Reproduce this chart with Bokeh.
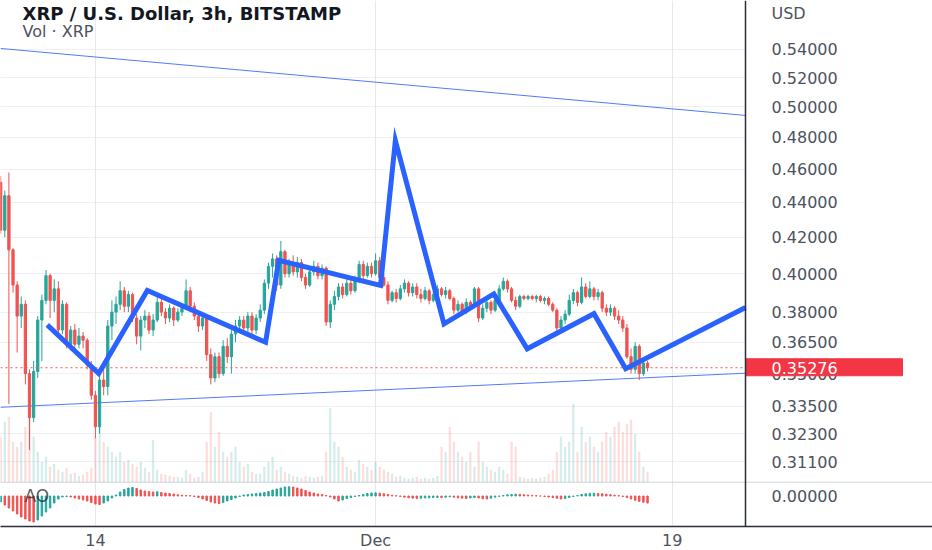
import math
from bokeh.plotting import figure
from bokeh.models import (Range1d, FixedTicker, Span, Label, Grid,
                          LinearScale, ColumnDataSource)
from bokeh.core.properties import value
from bokeh.embed import file_html
from bokeh.resources import INLINE

# ---------------- data (6h candles from Nov 8 06:00, bar index) ----------------
opens = [0.452, 0.424, 0.444, 0.413, 0.394, 0.378, 0.384, 0.350, 0.330, 0.351,
         0.376, 0.386, 0.399, 0.386, 0.392, 0.371, 0.384, 0.364, 0.371, 0.364,
         0.368, 0.366, 0.354, 0.340, 0.326, 0.347, 0.344, 0.373, 0.380, 0.384,
         0.391, 0.383, 0.389, 0.377, 0.368, 0.376, 0.378, 0.371, 0.376, 0.385,
         0.380, 0.377, 0.382, 0.376, 0.380, 0.382, 0.391, 0.383, 0.378, 0.373,
         0.377, 0.359, 0.348, 0.358, 0.350, 0.363, 0.358, 0.369, 0.373, 0.376,
         0.372, 0.378, 0.371, 0.377, 0.381, 0.395, 0.404, 0.408, 0.394, 0.412,
         0.400, 0.405, 0.401, 0.406, 0.398, 0.394, 0.401, 0.404, 0.399, 0.403,
         0.375, 0.384, 0.388, 0.393, 0.389, 0.395, 0.391, 0.397, 0.405, 0.399,
         0.404, 0.400, 0.407, 0.398, 0.394, 0.386, 0.390, 0.387, 0.392, 0.395,
         0.390, 0.393, 0.389, 0.387, 0.391, 0.386, 0.389, 0.392, 0.389, 0.391,
         0.387, 0.381, 0.384, 0.380, 0.385, 0.383, 0.392, 0.377, 0.382, 0.385,
         0.381, 0.386, 0.392, 0.396, 0.392, 0.386, 0.383, 0.388, 0.387, 0.388,
         0.387, 0.388, 0.386, 0.387, 0.384, 0.381, 0.372, 0.376, 0.379, 0.386,
         0.390, 0.385, 0.393, 0.388, 0.392, 0.388, 0.390, 0.382, 0.380, 0.382,
         0.378, 0.376, 0.372, 0.358, 0.352, 0.363, 0.350, 0.355]
highs = [0.456, 0.447, 0.458, 0.414, 0.396, 0.388, 0.386, 0.352, 0.356, 0.378,
         0.389, 0.402, 0.400, 0.397, 0.396, 0.386, 0.385, 0.373, 0.374, 0.372,
         0.370, 0.367, 0.356, 0.342, 0.349, 0.354, 0.376, 0.386, 0.388, 0.396,
         0.393, 0.391, 0.390, 0.379, 0.378, 0.381, 0.380, 0.379, 0.389, 0.387,
         0.382, 0.384, 0.383, 0.382, 0.384, 0.397, 0.393, 0.385, 0.380, 0.380,
         0.378, 0.362, 0.360, 0.360, 0.366, 0.367, 0.371, 0.376, 0.378, 0.378,
         0.380, 0.380, 0.379, 0.384, 0.397, 0.406, 0.411, 0.410, 0.418, 0.413,
         0.408, 0.410, 0.409, 0.408, 0.400, 0.403, 0.407, 0.406, 0.405, 0.404,
         0.386, 0.391, 0.395, 0.395, 0.397, 0.397, 0.399, 0.407, 0.407, 0.406,
         0.406, 0.411, 0.409, 0.400, 0.396, 0.391, 0.392, 0.394, 0.397, 0.396,
         0.395, 0.395, 0.392, 0.393, 0.392, 0.391, 0.394, 0.393, 0.393, 0.392,
         0.388, 0.386, 0.385, 0.387, 0.386, 0.393, 0.393, 0.384, 0.387, 0.386,
         0.388, 0.394, 0.398, 0.397, 0.393, 0.388, 0.389, 0.389, 0.389, 0.389,
         0.389, 0.389, 0.388, 0.388, 0.385, 0.382, 0.378, 0.381, 0.389, 0.392,
         0.391, 0.398, 0.395, 0.396, 0.393, 0.392, 0.391, 0.384, 0.384, 0.383,
         0.381, 0.378, 0.374, 0.362, 0.365, 0.364, 0.357, 0.356]
lows = [0.422, 0.420, 0.336, 0.390, 0.360, 0.372, 0.345, 0.316, 0.328, 0.348,
        0.356, 0.384, 0.377, 0.380, 0.368, 0.369, 0.362, 0.361, 0.360, 0.362,
        0.362, 0.352, 0.338, 0.321, 0.323, 0.340, 0.340, 0.366, 0.374, 0.381,
        0.380, 0.380, 0.375, 0.364, 0.361, 0.372, 0.369, 0.368, 0.375, 0.378,
        0.374, 0.375, 0.373, 0.375, 0.378, 0.381, 0.380, 0.376, 0.370, 0.371,
        0.356, 0.345, 0.346, 0.348, 0.349, 0.355, 0.350, 0.365, 0.371, 0.370,
        0.370, 0.369, 0.369, 0.375, 0.379, 0.392, 0.398, 0.391, 0.392, 0.398,
        0.398, 0.399, 0.398, 0.396, 0.392, 0.393, 0.399, 0.397, 0.397, 0.373,
        0.372, 0.381, 0.386, 0.387, 0.388, 0.389, 0.390, 0.395, 0.397, 0.398,
        0.398, 0.399, 0.396, 0.393, 0.384, 0.385, 0.385, 0.386, 0.390, 0.388,
        0.388, 0.387, 0.385, 0.386, 0.384, 0.385, 0.387, 0.388, 0.387, 0.386,
        0.379, 0.380, 0.378, 0.379, 0.381, 0.382, 0.375, 0.376, 0.380, 0.379,
        0.380, 0.385, 0.391, 0.390, 0.385, 0.381, 0.382, 0.386, 0.386, 0.386,
        0.385, 0.385, 0.384, 0.383, 0.380, 0.370, 0.371, 0.374, 0.378, 0.384,
        0.383, 0.384, 0.387, 0.387, 0.386, 0.386, 0.380, 0.378, 0.378, 0.376,
        0.374, 0.370, 0.357, 0.350, 0.350, 0.347, 0.349, 0.351]
closes = [0.424, 0.444, 0.413, 0.394, 0.378, 0.384, 0.350, 0.330, 0.351, 0.376,
          0.386, 0.399, 0.386, 0.392, 0.371, 0.384, 0.364, 0.371, 0.364, 0.368,
          0.366, 0.354, 0.340, 0.326, 0.347, 0.344, 0.373, 0.380, 0.384, 0.391,
          0.383, 0.389, 0.377, 0.368, 0.376, 0.378, 0.371, 0.376, 0.385, 0.380,
          0.377, 0.382, 0.376, 0.380, 0.382, 0.391, 0.383, 0.378, 0.373, 0.377,
          0.359, 0.348, 0.358, 0.350, 0.363, 0.358, 0.369, 0.373, 0.376, 0.372,
          0.378, 0.371, 0.377, 0.381, 0.395, 0.404, 0.408, 0.394, 0.412, 0.400,
          0.405, 0.401, 0.406, 0.398, 0.394, 0.401, 0.404, 0.399, 0.403, 0.375,
          0.384, 0.388, 0.393, 0.389, 0.395, 0.391, 0.397, 0.405, 0.399, 0.404,
          0.400, 0.407, 0.398, 0.394, 0.386, 0.390, 0.387, 0.392, 0.395, 0.390,
          0.393, 0.389, 0.387, 0.391, 0.386, 0.389, 0.392, 0.389, 0.391, 0.387,
          0.381, 0.384, 0.380, 0.385, 0.383, 0.392, 0.377, 0.382, 0.385, 0.381,
          0.386, 0.392, 0.396, 0.392, 0.386, 0.383, 0.388, 0.387, 0.388, 0.387,
          0.388, 0.386, 0.387, 0.384, 0.381, 0.372, 0.376, 0.379, 0.386, 0.390,
          0.385, 0.393, 0.388, 0.392, 0.388, 0.390, 0.382, 0.380, 0.382, 0.378,
          0.376, 0.372, 0.358, 0.352, 0.363, 0.350, 0.355, 0.35276]
volumes = [45, 60, 65, 40, 35, 40, 55, 70, 45, 30,
           20, 25, 15, 18, 12, 10, 14, 8, 9, 6,
           7, 10, 14, 45, 55, 40, 35, 30, 25, 30,
           20, 22, 18, 15, 20, 14, 10, 42, 12, 8,
           7, 6, 5, 5, 4, 12, 8, 4, 5, 10,
           40, 70, 35, 50, 30, 25, 30, 35, 20, 15,
           18, 10, 8, 8, 15, 20, 25, 12, 15, 10,
           8, 6, 5, 4, 6, 5, 4, 5, 6, 30,
           74, 40, 35, 25, 15, 12, 10, 22, 18, 15,
           12, 20, 15, 12, 10, 8, 5, 6, 4, 3,
           4, 5, 3, 4, 3, 4, 6, 35, 30, 55,
           40, 30, 25, 20, 30, 15, 40, 20, 15, 12,
           10, 15, 12, 8, 40, 35, 5, 4, 3, 4,
           3, 4, 5, 8, 12, 30, 45, 35, 40, 78,
           30, 55, 40, 45, 35, 30, 40, 50, 45, 55,
           60, 50, 58, 62, 48, 30, 15, 10]
ao = [-0.012, -0.018, -0.024, -0.030, -0.036, -0.042, -0.046, -0.050, -0.052, -0.048,
      -0.040, -0.032, -0.024, -0.014, -0.006, -0.002, -0.001, -0.002, -0.004, -0.006,
      -0.008, -0.010, -0.013, -0.016, -0.017, -0.014, -0.010, -0.004, 0.002, 0.008,
      0.013, 0.016, 0.017, 0.015, 0.012, 0.010, 0.009, 0.008, 0.0085, 0.007,
      0.006, 0.005, 0.004, 0.0024, 0.0016, 0.001, 0.0006, -0.001, -0.003, -0.006,
      -0.009, -0.012, -0.014, -0.015, -0.013, -0.010, -0.007, -0.004, -0.001, 0.002,
      0.003, 0.004, 0.005, 0.006, 0.007, 0.009, 0.012, 0.014, 0.016, 0.018,
      0.0184, 0.018, 0.016, 0.014, 0.011, 0.008, 0.006, 0.004, 0.003, 0.001,
      -0.002, -0.006, -0.010, -0.008, -0.005, -0.003, -0.001, 0.001, 0.003, 0.005,
      0.006, 0.0064, 0.0056, 0.0044, 0.003, 0.0016, 0.0004, -0.001, -0.0024, -0.0036,
      -0.0044, -0.005, -0.0044, -0.004, -0.0036, -0.003, -0.0028, -0.0032, -0.0024, -0.0016,
      -0.0024, -0.0036, -0.0044, -0.005, -0.004, -0.003, -0.004, -0.0056, -0.006, -0.0044,
      -0.0024, -0.0006, 0.001, 0.0024, 0.003, 0.0036, 0.0032, 0.0026, 0.002, 0.0012,
      0.0006, 0.0, -0.001, -0.002, -0.003, -0.0046, -0.006, -0.005, -0.003, -0.001,
      0.001, 0.003, 0.0044, 0.0052, 0.0056, 0.005, 0.0044, 0.0036, 0.0026, 0.0016,
      0.0006, -0.001, -0.003, -0.006, -0.0084, -0.0106, -0.0124, -0.014]

price_ticks = [0.311, 0.323, 0.335, 0.35, 0.365, 0.38, 0.40, 0.42, 0.44, 0.46,
               0.48, 0.50, 0.52, 0.54]
date_tick_bars = [23, 91, 163]
date_tick_labels = ["14", "Dec", "19"]

zigzag_bar = [11.3, 23.8, 35.6, 64.3, 67.5, 92.2, 95.8, 107.6, 119.7, 127.8, 144.0, 151.7, 180.78]
zigzag_price = [0.3736, 0.3500, 0.3912, 0.3650, 0.4072, 0.3938, 0.4780, 0.3741, 0.3894,
                0.3618, 0.3792, 0.3523, 0.3824]
upper_bar = [-0.04, 180.78]
upper_price = [0.5406, 0.4943]
lower_bar = [-0.04, 180.78]
lower_price = [0.3346, 0.3502]
last_price = 0.35276

UP, DOWN = "#26a69a", "#ef5350"
FONT = "DejaVu Sans"
LABEL_GREY = "#4c525e"

# ---------------- geometry ----------------
W, FH = 932, 526
x_start, x_axis_pos = -0.04, 180.78          # price scale sits at the right edge of the bars pane
pane_w = 745
bars_per_px = (x_axis_pos - x_start) / pane_w
x_end = x_start + W * bars_per_px
y_lo, y_hi = 0.2853, 0.5764
logs_per_px = (math.log(y_hi) - math.log(y_lo)) / FH
ao_lo, ao_hi = -0.061, 0.991

p = figure(frame_width=W, frame_height=FH, output_backend="svg", toolbar_location=None,
           y_axis_type="log", y_axis_location=None,
           x_range=Range1d(x_start, x_end), y_range=Range1d(y_lo, y_hi),
           min_border_left=0, min_border_top=0, min_border_right=0, min_border_bottom=24)
p.outline_line_color = None
p.background_fill_color = "white"
p.border_fill_color = "white"
p.extra_y_ranges = {"vol": Range1d(-44.3, 481.7), "ao": Range1d(ao_lo, ao_hi)}
p.extra_y_scales = {"vol": LinearScale(), "ao": LinearScale()}

# grids
for g in list(p.grid):
    g.visible = False
p.add_layout(Grid(dimension=1, ticker=FixedTicker(ticks=price_ticks),
                  cross_bounds=(x_start, x_axis_pos), grid_line_color="#eef0f4"))
p.add_layout(Grid(dimension=0, ticker=FixedTicker(ticks=date_tick_bars),
                  grid_line_color="#e6e8ee"))

n = len(closes)
idx = list(range(n))
cols = [UP if c >= o else DOWN for o, c in zip(opens, closes)]
src = ColumnDataSource(dict(x=idx, o=opens, h=highs, l=lows, c=closes, v=volumes,
                            col=cols,
                            top=[max(o, c) for o, c in zip(opens, closes)],
                            bot=[min(o, c) for o, c in zip(opens, closes)]))

# volume
p.vbar(x="x", top="v", bottom=0, width=0.35, color="col", alpha=0.13, source=src,
       y_range_name="vol")
p.add_layout(Span(location=0, dimension="width", y_range_name="vol",
                  line_color="#d1d4dc", line_width=1))

# AO histogram
ao_cols = [UP] + [UP if ao[i] >= ao[i - 1] else DOWN for i in range(1, len(ao))]
p.vbar(x=idx, top=ao, bottom=0, width=0.35, color=ao_cols, y_range_name="ao")

# trend lines
p.line(upper_bar, upper_price, line_color="#4f7cf7", line_width=1)
p.line(lower_bar, lower_price, line_color="#4f7cf7", line_width=1)

# candles
p.segment(x0="x", y0="h", x1="x", y1="l", color="col", line_width=1, source=src)
p.vbar(x="x", top="top", bottom="bot", width=0.55, fill_color="col", line_color="col",
       source=src)

# last price line (bars pane only)
p.segment(x0=[x_start], y0=[last_price], x1=[x_axis_pos], y1=[last_price],
          line_color=DOWN, line_dash="2 3", line_width=1)

# zigzag drawing
p.line(zigzag_bar, zigzag_price, line_color="#2962ff", line_width=5, line_join="miter")

# price scale: border line + labels
p.add_layout(Span(location=x_axis_pos, dimension="height", line_color="#2a2e39",
                  line_width=1.5))
label_x = x_axis_pos + 26 * bars_per_px
p.text(x=label_x, y=price_ticks, text=["%.5f" % t for t in price_ticks],
       text_font=value(FONT), text_font_size=value("16px"), text_color=LABEL_GREY,
       text_baseline="middle", text_align="left")
p.text(x=label_x, y=[0.0], text=["%.5f" % 0.0], y_range_name="ao",
       text_font=value(FONT), text_font_size=value("16px"), text_color=LABEL_GREY,
       text_baseline="middle", text_align="left")

# last price tag on the price scale
tag_top_px, tag_bottom_px = 9, 8
p.quad(left=[x_axis_pos], right=[x_axis_pos + 157 * bars_per_px],
       top=[last_price * math.exp(tag_top_px * logs_per_px)],
       bottom=[last_price * math.exp(-tag_bottom_px * logs_per_px)],
       fill_color="#f23645", line_color="#f23645")
p.text(x=label_x, y=[last_price], text=["%.5f" % last_price],
       text_font=value(FONT), text_font_size=value("16px"), text_color="white",
       text_baseline="middle", text_align="left")

# time axis
p.xaxis.ticker = FixedTicker(ticks=date_tick_bars)
p.xaxis.major_label_overrides = {b: t for b, t in zip(date_tick_bars, date_tick_labels)}
ax = p.xaxis[0]
ax.axis_line_color = "#2a2e39"
ax.axis_line_width = 1.5
ax.major_tick_line_color = None
ax.minor_tick_line_color = None
ax.major_tick_out = 0
ax.major_tick_in = 0
ax.major_label_text_font = FONT
ax.major_label_text_font_size = "16px"
ax.major_label_text_color = LABEL_GREY
ax.major_label_standoff = 4

# texts
p.add_layout(Label(x=22, y=FH - 13, x_units="screen", y_units="screen",
                   text="XRP / U.S. Dollar, 3h, BITSTAMP", text_font=FONT,
                   text_font_style="bold", text_font_size="18px", text_color="#131722",
                   text_baseline="middle"))
p.add_layout(Label(x=22, y=FH - 31, x_units="screen", y_units="screen",
                   text="Vol · XRP", text_font=FONT, text_font_size="16px",
                   text_color=LABEL_GREY, text_baseline="middle"))
p.add_layout(Label(x=24, y=30.5, x_units="screen", y_units="screen",
                   text="AO", text_font=FONT, text_font_size="17px",
                   text_color="#2a2e39", text_alpha=0.8, text_baseline="middle"))
p.add_layout(Label(x=label_x, y=FH - 13, x_units="data", y_units="screen",
                   text="USD", text_font=FONT, text_font_size="16px",
                   text_color=LABEL_GREY, text_baseline="middle"))

open("out.html", "w").write(file_html(p, INLINE))
